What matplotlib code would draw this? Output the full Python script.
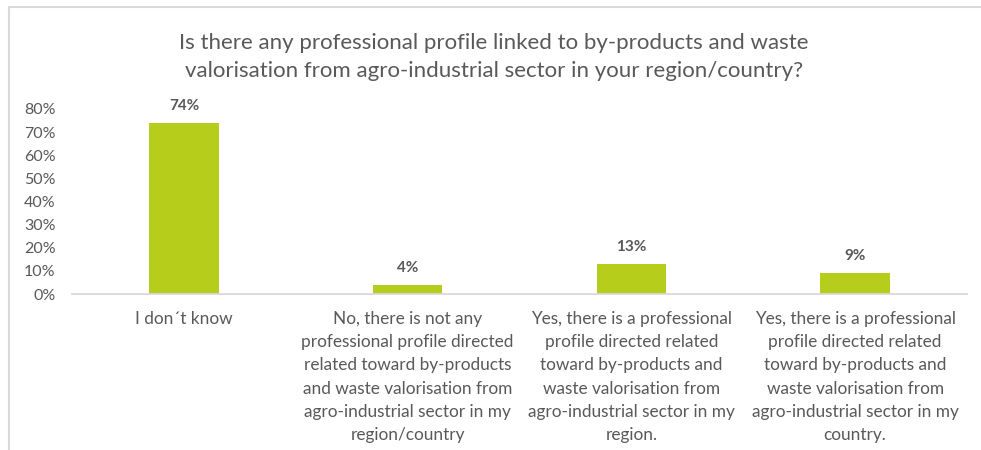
import matplotlib.pyplot as plt
from matplotlib.lines import Line2D

# === Data ===
categories = [
    "I don´t know",
    "No, there is not any\nprofessional profile directed\nrelated toward by-products\nand waste valorisation from\nagro-industrial sector in my\nregion/country",
    "Yes, there is a professional\nprofile directed related\ntoward by-products and\nwaste valorisation from\nagro-industrial sector in my\nregion.",
    "Yes, there is a professional\nprofile directed related\ntoward by-products and\nwaste valorisation from\nagro-industrial sector in my\ncountry.",
]
shares = [0.74, 0.04, 0.13, 0.09]
y_ticks = [0.0, 0.1, 0.2, 0.3, 0.4, 0.5, 0.6, 0.7, 0.8]
y_tick_labels = ["0%", "10%", "20%", "30%", "40%", "50%", "60%", "70%", "80%"]
title = ("Is there any professional profile linked to by-products and waste\n"
         "valorisation from agro-industrial sector in your region/country?")

# === Style ===
BAR_COLOR = "#B6CD1C"
TEXT_COLOR = "#595959"
LINE_COLOR = "#D9D9D9"
plt.rcParams["font.family"] = ["Lato", "DejaVu Sans"]

W, H = 981, 450
fig = plt.figure(figsize=(W / 100, H / 100), dpi=100)
fig.patch.set_facecolor("white")

# axes placed so the 0%..80% range spans the plot area
ax = fig.add_axes([72 / W, 1 - 294 / H, (967 - 72) / W, (294 - 109) / H])
x = range(len(categories))
bars = ax.bar(x, shares, width=0.31, color=BAR_COLOR, zorder=2)

for xi, v in zip(x, shares):
    ax.annotate(f"{v:.0%}", (xi, v), xytext=(0, 7), textcoords="offset points",
                ha="center", va="bottom", fontsize=11, fontweight="bold",
                color=TEXT_COLOR, annotation_clip=False)

ax.set_xlim(-0.5, len(categories) - 0.5)
ax.set_ylim(0, 0.8)
ax.set_yticks(y_ticks)
ax.set_yticklabels(y_tick_labels, fontsize=11.5, color=TEXT_COLOR)
ax.set_xticks(list(x))
ax.set_xticklabels(categories, fontsize=12.4, color=TEXT_COLOR,
                   linespacing=1.56, va="top")
ax.tick_params(axis="both", length=0)
ax.tick_params(axis="y", pad=12)
ax.tick_params(axis="x", pad=12)

for side in ["top", "right", "left"]:
    ax.spines[side].set_visible(False)
ax.spines["bottom"].set_color(LINE_COLOR)
ax.spines["bottom"].set_linewidth(1.3)

fig.text(494 / W, 1 - 57 / H, title, ha="center", va="center",
         fontsize=16, color=TEXT_COLOR, linespacing=1.5)

# light frame along the top and left edges
fig.add_artist(Line2D([8.5 / W, 1], [1 - 6.5 / H, 1 - 6.5 / H],
                      transform=fig.transFigure, color=LINE_COLOR, lw=1.5))
fig.add_artist(Line2D([8.5 / W, 8.5 / W], [0, 1 - 6.5 / H],
                      transform=fig.transFigure, color=LINE_COLOR, lw=1.5))

fig.savefig("out.png", dpi=100)
